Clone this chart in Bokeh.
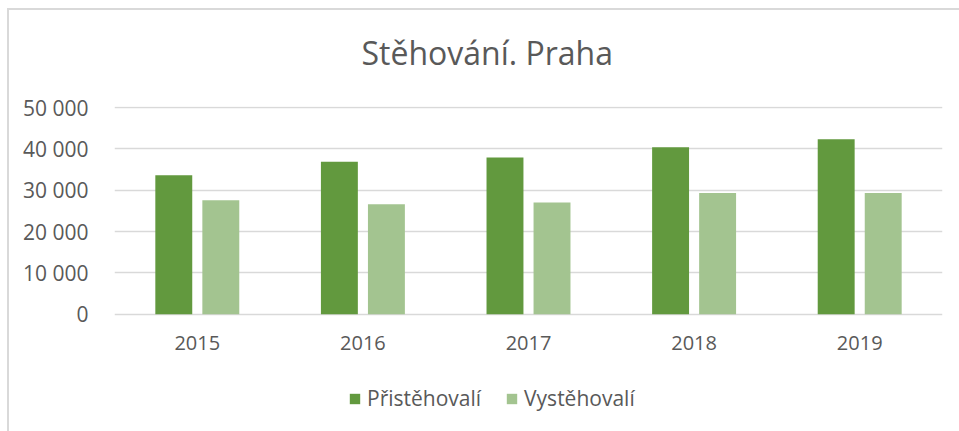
from bokeh.plotting import figure
from bokeh.models import FactorRange, Range1d, FixedTicker, Legend, LegendItem, ColumnDataSource
from bokeh.transform import dodge
from bokeh.embed import file_html
from bokeh.resources import INLINE

# ---- data ----
years = ["2015", "2016", "2017", "2018", "2019"]
pristehovali = [33600, 36900, 37900, 40400, 42300]
vystehovali = [27600, 26600, 27000, 29300, 29300]
series_names = ["Přistěhovalí", "Vystěhovalí"]
y_ticks = [0, 10000, 20000, 30000, 40000, 50000]
y_tick_labels = ["0", "10 000", "20 000", "30 000", "40 000", "50 000"]
title_text = "Stěhování. Praha"

colors = ["#62993E", "#A3C490"]
text_color = "#595959"
grid_color = "#D9D9D9"
FONT = "Open Sans"

source = ColumnDataSource(dict(years=years, a=pristehovali, b=vystehovali))

# frame extends below zero so the legend can sit inside it; x axis fixed at 0
p = figure(
    width=959, height=431,
    x_range=FactorRange(factors=years, range_padding=0),
    y_range=Range1d(-26915, 50250),
    output_backend="svg", toolbar_location=None,
    min_border_left=114, min_border_right=17,
    min_border_top=106, min_border_bottom=6,
)
p.outline_line_color = None
p.border_fill_color = None
p.background_fill_color = None
p.styles = {
    "background": "linear-gradient(#d9d9d9,#d9d9d9) 7px 8px / 2px 100% no-repeat, "
                  "linear-gradient(#d9d9d9,#d9d9d9) 7px 8px / 100% 2px no-repeat"
}

r1 = p.vbar(x=dodge("years", -0.142, range=p.x_range), top="a", width=0.223,
            source=source, fill_color=colors[0], line_color=None)
r2 = p.vbar(x=dodge("years", 0.142, range=p.x_range), top="b", width=0.223,
            source=source, fill_color=colors[1], line_color=None)

# title
p.title.text = title_text
p.title.align = "left"
p.title.offset = 247
p.title.vertical_align = "top"
p.title.text_font = FONT
p.title.text_font_size = "32px"
p.title.text_font_style = "normal"
p.title.text_color = text_color
p.title.standoff = 61

# axes
p.yaxis.ticker = FixedTicker(ticks=y_ticks)
p.yaxis.major_label_overrides = {t: l for t, l in zip(y_ticks, y_tick_labels)}
for ax in (p.xaxis, p.yaxis):
    ax.axis_line_color = None
    ax.major_tick_line_color = None
    ax.minor_tick_line_color = None
    ax.major_label_text_font = FONT
    ax.major_label_text_color = text_color
p.yaxis.major_label_text_font_size = "21px"
p.xaxis.major_label_text_font_size = "20px"
p.yaxis.major_label_standoff = 20
p.xaxis.major_label_standoff = 16
p.xaxis.fixed_location = 0

p.xgrid.grid_line_color = None
p.ygrid.ticker = FixedTicker(ticks=y_ticks)
p.ygrid.grid_line_color = grid_color
p.ygrid.grid_line_width = 1.5

legend = Legend(
    items=[LegendItem(label=series_names[0], renderers=[r1]),
           LegendItem(label=series_names[1], renderers=[r2])],
    orientation="horizontal", location=(234, 13),
    border_line_color=None, background_fill_alpha=0,
    label_text_font=FONT, label_text_font_size="21px", label_text_color=text_color,
    glyph_width=13, glyph_height=13, spacing=24, label_standoff=6,
    padding=0, margin=0,
)
p.add_layout(legend, "center")

open("out.html", "w").write(file_html(p, INLINE))
